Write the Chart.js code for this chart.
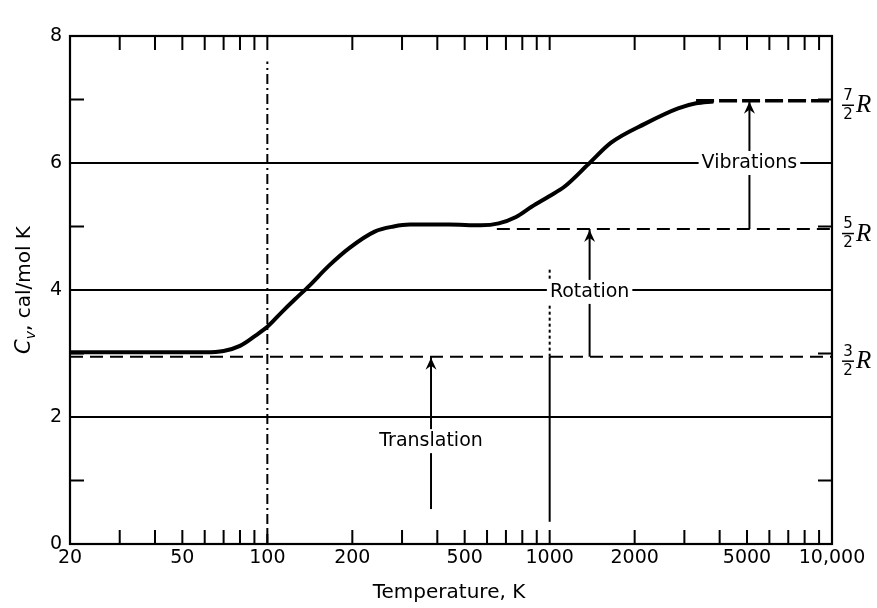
<!DOCTYPE html>
<html><head><meta charset="utf-8">
<script src="https://cdn.jsdelivr.net/npm/chart.js@4"></script>
<style>html,body{margin:0;padding:0;background:#fff;} #wrap{width:877px;height:608px;}</style>
</head><body><div id="wrap"><canvas id="c" width="877" height="608"></canvas></div>
<script>
// ---- data ----
const temperatureK = [20, 40, 60, 70, 80, 90, 100, 113, 125, 141, 165, 195, 240, 280, 320, 440, 570, 660, 760, 863, 1000, 1130, 1370, 1650, 2180, 2850, 3300, 3800];
const cvValues     = [3.02, 3.02, 3.02, 3.04, 3.12, 3.27, 3.42, 3.66, 3.85, 4.07, 4.38, 4.66, 4.92, 5.0, 5.03, 5.03, 5.02, 5.05, 5.15, 5.31, 5.48, 5.63, 5.98, 6.32, 6.62, 6.86, 6.94, 6.97];
const xTickValues = [20, 50, 100, 200, 500, 1000, 2000, 5000, 10000];
const xTickLabels = ['20', '50', '100', '200', '500', '1000', '2000', '5000', '10,000'];
const xMinorTicks = [30, 40, 60, 70, 80, 90, 300, 400, 600, 700, 800, 900, 3000, 4000, 6000, 7000, 8000, 9000];
const yMinorTicks = [1, 3, 5, 7];
const gridLevels = [2, 4, 6];
const refNumerators = ['3', '5', '7'];
const refLevels = [2.95, 4.96, 6.98];
const refStartT = [20, 650, 3300];
const arrowT = [380, 1385, 5100];
const arrowFrom = [0.55, 2.95, 4.96];
const arrowTo = [2.95, 4.96, 6.98];
const arrowLabels = ['Translation', 'Rotation', 'Vibrations'];
const arrowLabelCv = [1.62, 3.97, 6.0];
const vLineT = [100, 1000, 1000];
const vLineFrom = [0, 0.35, 2.95];
const vLineTo = [7.6, 2.95, 4.35];
const vLineDash = [[10, 4, 2, 4], [], [3, 3]];
const xMin = 20, xMax = 10000, yMin = 0, yMax = 8;

const FONT = '"DejaVu Sans", sans-serif';

const datasets = [];
datasets.push({
  data: temperatureK.map((t, i) => ({x: t, y: cvValues[i]})),
  borderColor: '#000', borderWidth: 4, pointRadius: 0, cubicInterpolationMode: 'monotone', fill: false
});
refLevels.forEach((lv, i) => {
  datasets.push({
    data: [{x: refStartT[i], y: lv}, {x: xMax, y: lv}],
    borderColor: '#000', borderWidth: i === 2 ? 3.5 : 2, borderDash: i === 2 ? [18, 5] : [13, 7],
    pointRadius: 0, fill: false
  });
});
vLineT.forEach((t, i) => {
  datasets.push({
    data: [{x: t, y: vLineFrom[i]}, {x: t, y: vLineTo[i]}],
    borderColor: '#000', borderWidth: 2, borderDash: vLineDash[i], pointRadius: 0, fill: false
  });
});
arrowT.forEach((t, i) => {
  datasets.push({
    data: [{x: t, y: arrowFrom[i]}, {x: t, y: arrowTo[i]}],
    borderColor: '#000', borderWidth: 2, pointRadius: 0, fill: false
  });
});

const decor = {
  id: 'decor',
  afterDatasetsDraw(chart) {
    const ctx = chart.ctx, a = chart.chartArea;
    const xs = chart.scales.x, ys = chart.scales.y;
    ctx.save();
    ctx.strokeStyle = '#000'; ctx.fillStyle = '#000';
    // frame
    ctx.lineWidth = 2.2;
    ctx.strokeRect(a.left, a.top, a.right - a.left, a.bottom - a.top);
    // inward ticks x
    ctx.lineWidth = 2;
    const tl = 14;
    xTickValues.concat(xMinorTicks).forEach(v => {
      const px = xs.getPixelForValue(v);
      if (px <= a.left + 1 || px >= a.right - 1) return;
      ctx.beginPath();
      ctx.moveTo(px, a.bottom); ctx.lineTo(px, a.bottom - tl);
      ctx.moveTo(px, a.top); ctx.lineTo(px, a.top + tl);
      ctx.stroke();
    });
    // inward ticks y
    yMinorTicks.forEach(v => {
      const py = ys.getPixelForValue(v);
      ctx.beginPath();
      ctx.moveTo(a.left, py); ctx.lineTo(a.left + tl, py);
      ctx.moveTo(a.right, py); ctx.lineTo(a.right - tl, py);
      ctx.stroke();
    });
    // arrowheads
    arrowT.forEach((t, i) => {
      const px = xs.getPixelForValue(t), py = ys.getPixelForValue(arrowTo[i]);
      ctx.beginPath();
      ctx.moveTo(px, py + 1);
      ctx.lineTo(px - 5.5, py + 13);
      ctx.lineTo(px, py + 9);
      ctx.lineTo(px + 5.5, py + 13);
      ctx.closePath();
      ctx.fill();
    });
    // arrow labels with white background
    ctx.font = '19px ' + FONT;
    ctx.textAlign = 'center'; ctx.textBaseline = 'middle';
    arrowLabels.forEach((s, i) => {
      const px = xs.getPixelForValue(arrowT[i]), py = ys.getPixelForValue(arrowLabelCv[i]);
      const w = ctx.measureText(s).width;
      ctx.fillStyle = '#fff';
      ctx.fillRect(px - w / 2 - 3, py - 12, w + 6, 24);
      ctx.fillStyle = '#000';
      ctx.fillText(s, px, py);
    });
    // right fraction labels
    refLevels.forEach((lv, i) => {
      const cy = ys.getPixelForValue(lv) + 4;
      const fx = a.right + 16;
      ctx.font = '15px ' + FONT;
      ctx.textAlign = 'center'; ctx.textBaseline = 'middle';
      ctx.fillText(refNumerators[i], fx, cy - 9);
      ctx.fillText('2', fx, cy + 10);
      ctx.lineWidth = 1.5;
      ctx.beginPath(); ctx.moveTo(fx - 6, cy + 0.5); ctx.lineTo(fx + 6, cy + 0.5); ctx.stroke();
      ctx.font = 'italic 25px "Liberation Serif", serif';
      ctx.textAlign = 'left';
      ctx.fillText('R', fx + 8, cy + 1);
    });
    // x title
    ctx.font = '20px ' + FONT;
    ctx.textAlign = 'center'; ctx.textBaseline = 'middle';
    ctx.fillText('Temperature, K', 449, 593);
    // y title
    ctx.translate(25, 290);
    ctx.rotate(-Math.PI / 2);
    ctx.textBaseline = 'middle'; ctx.textAlign = 'left';
    const p1 = 'C', p2 = 'v', p3 = ', cal/mol K';
    ctx.font = 'italic 21px ' + FONT; const w1 = ctx.measureText(p1).width;
    ctx.font = 'italic 14px ' + FONT; const w2 = ctx.measureText(p2).width;
    ctx.font = '20px ' + FONT; const w3 = ctx.measureText(p3).width;
    let x0 = -(w1 + w2 + w3) / 2;
    ctx.font = 'italic 21px ' + FONT; ctx.fillText(p1, x0, 0); x0 += w1;
    ctx.font = 'italic 14px ' + FONT; ctx.fillText(p2, x0, 6); x0 += w2;
    ctx.font = '20px ' + FONT; ctx.fillText(p3, x0, 0);
    ctx.restore();
  }
};

new Chart(document.getElementById('c'), {
  type: 'line',
  data: {datasets},
  options: {
    responsive: false, animation: false, devicePixelRatio: 1,
    layout: {padding: {top: 36, right: 45, left: 0, bottom: 0}},
    plugins: {legend: {display: false}, tooltip: {enabled: false}},
    scales: {
      x: {
        type: 'logarithmic', min: xMin, max: xMax,
        afterFit(s) { s.height = 64; },
        afterBuildTicks(s) { s.ticks = xTickValues.map(v => ({value: v})); },
        grid: {display: false, drawTicks: false},
        border: {display: false},
        ticks: {
          autoSkip: false, maxRotation: 0, padding: 3, color: '#000',
          font: {family: FONT, size: 19},
          callback: (v, i) => xTickLabels[i]
        }
      },
      y: {
        type: 'linear', min: yMin, max: yMax,
        afterFit(s) { s.width = 70; },
        grid: {
          drawTicks: false,
          color: c => gridLevels.includes(c.tick.value) ? '#000' : 'rgba(0,0,0,0)',
          lineWidth: 2
        },
        border: {display: false},
        ticks: {stepSize: 2, padding: 8, color: '#000', font: {family: FONT, size: 19}}
      }
    }
  },
  plugins: [decor]
});
</script>
</body></html>
